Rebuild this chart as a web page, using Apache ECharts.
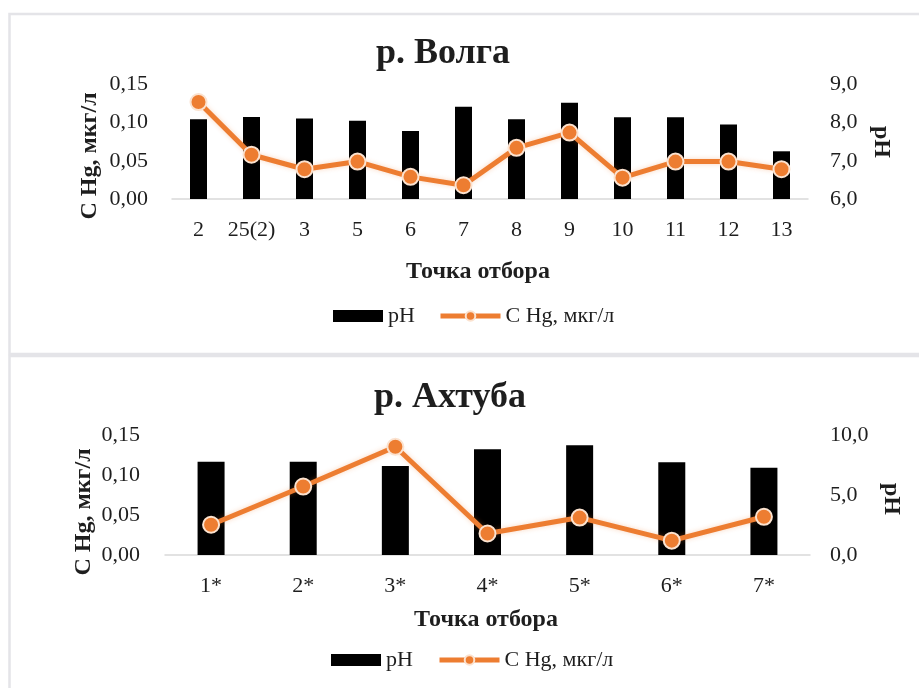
<!DOCTYPE html>
<html>
<head>
<meta charset="utf-8">
<script src="https://cdn.jsdelivr.net/npm/echarts@6/dist/echarts.min.js"></script>
<style>
html,body{margin:0;padding:0;background:#fff;}
#chart{width:919px;height:688px;}
</style>
</head>
<body>
<div id="chart"></div>
<script>
// ---- Data ----
const catsVolga = ['2', '25(2)', '3', '5', '6', '7', '8', '9', '10', '11', '12', '13'];
const phVolga = [8.09, 8.15, 8.11, 8.05, 7.78, 8.42, 8.09, 8.52, 8.14, 8.14, 7.95, 7.25];
const hgVolga = [0.127, 0.058, 0.039, 0.049, 0.029, 0.018, 0.067, 0.087, 0.028, 0.049, 0.049, 0.039];

const catsAkhtuba = ['1*', '2*', '3*', '4*', '5*', '6*', '7*'];
const phAkhtuba = [7.81, 7.81, 7.45, 8.85, 9.19, 7.76, 7.31];
const hgAkhtuba = [0.038, 0.086, 0.136, 0.027, 0.047, 0.018, 0.048];

const titleVolga = 'р. Волга';
const titleAkhtuba = 'р. Ахтуба';
const nameHg = 'С Hg, мкг/л';
const namePh = 'pH';
const nameX = 'Точка отбора';

// ---- Styles ----
const FONT = '"Liberation Serif", "Times New Roman", serif';
const TXT = '#1e1e1e';
const ORANGE = '#ED7D31';
const AXISLINE = '#d9d9d9';

const chart = echarts.init(document.getElementById('chart'));

function xAx(gridIndex, data) {
  return {
    type: 'category', gridIndex, data,
    axisLine: {lineStyle: {color: AXISLINE, width: 1.5}},
    axisTick: {show: false},
    axisLabel: {color: TXT, fontFamily: FONT, fontSize: 22, margin: 20, interval: 0}
  };
}
function yAx(gridIndex, min, max, interval, digits, position, margin) {
  return {
    type: 'value', gridIndex, min, max, interval, position,
    splitLine: {show: false},
    axisLine: {show: false},
    axisTick: {show: false},
    axisLabel: {
      color: TXT, fontFamily: FONT, fontSize: 22, margin,
      formatter: v => v.toFixed(digits).replace('.', ',')
    }
  };
}
function barS(xi, yi, data, w) {
  return {
    type: 'bar', name: namePh, xAxisIndex: xi, yAxisIndex: yi, data,
    barWidth: w, itemStyle: {color: '#000'}, z: 2
  };
}
function lineS(xi, yi, data) {
  return {
    type: 'line', name: nameHg, xAxisIndex: xi, yAxisIndex: yi, data,
    symbol: 'circle', symbolSize: 16,
    lineStyle: {color: ORANGE, width: 5, shadowColor: 'rgba(237,125,49,0.3)', shadowBlur: 5},
    itemStyle: {color: ORANGE, borderColor: '#fbe2cf', borderWidth: 2},
    z: 3
  };
}
function legendItem(name, left, top, w, icon) {
  const item = icon ? {name, icon} : {name};
  return {
    data: [item], left, top, itemWidth: w, itemHeight: 12, itemGap: 0,
    padding: 0,
    selectedMode: false,
    lineStyle: {width: 5, color: ORANGE},
    textStyle: {color: TXT, fontFamily: FONT, fontSize: 22, padding: [0, 0, 0, 0]}
  };
}
function txt(text, x, y, size, rot, bold) {
  return {
    type: 'text', x, y, rotation: rot || 0,
    style: {
      text, fill: TXT, align: 'center', verticalAlign: 'middle',
      font: (bold ? 'bold ' : '') + size + 'px ' + FONT
    }
  };
}

chart.setOption({
  backgroundColor: '#fff',
  animation: false,
  title: [
    {text: titleVolga, left: 443, top: 36, textAlign: 'center', textVerticalAlign: 'top', padding: 0,
     textStyle: {fontFamily: FONT, fontSize: 36, fontWeight: 'bold', color: TXT}},
    {text: titleAkhtuba, left: 450, top: 380, textAlign: 'center', textVerticalAlign: 'top', padding: 0,
     textStyle: {fontFamily: FONT, fontSize: 36, fontWeight: 'bold', color: TXT}}
  ],
  grid: [
    {left: 172, right: 111, top: 84.5, height: 114.5},
    {left: 165, right: 109, top: 435.6, height: 119.4}
  ],
  xAxis: [xAx(0, catsVolga), xAx(1, catsAkhtuba)],
  yAxis: [
    yAx(0, 0, 0.15, 0.05, 2, 'left', 24),
    yAx(0, 6, 9, 1, 1, 'right', 22),
    yAx(1, 0, 0.15, 0.05, 2, 'left', 25),
    yAx(1, 0, 10, 5, 1, 'right', 20)
  ],
  legend: [
    legendItem(namePh, 333, 305, 50, 'rect'),
    legendItem(nameHg, 438, 305, 60),
    legendItem(namePh, 331, 649, 50, 'rect'),
    legendItem(nameHg, 437, 649, 60)
  ],
  series: [
    barS(0, 1, phVolga, 17),
    lineS(0, 0, hgVolga),
    barS(1, 3, phAkhtuba, 27),
    lineS(1, 2, hgAkhtuba)
  ],
  graphic: [
    {type: 'rect', shape: {x: 9.5, y: 14, width: 1000, height: 340}, style: {fill: 'none', stroke: '#e4e4e8', lineWidth: 2.5}, z: -1},
    {type: 'rect', shape: {x: 9.5, y: 356, width: 1000, height: 400}, style: {fill: 'none', stroke: '#e4e4e8', lineWidth: 2.5}, z: -1},
    txt(nameHg, 90, 156, 24, Math.PI / 2, true),
    txt(namePh, 881, 142, 24, -Math.PI / 2, true),
    txt(nameX, 478, 272, 24, 0, true),
    txt(nameHg, 84, 512, 24, Math.PI / 2, true),
    txt(namePh, 891, 499, 24, -Math.PI / 2, true),
    txt(nameX, 486, 620, 24, 0, true)
  ]
});
</script>
</body>
</html>
